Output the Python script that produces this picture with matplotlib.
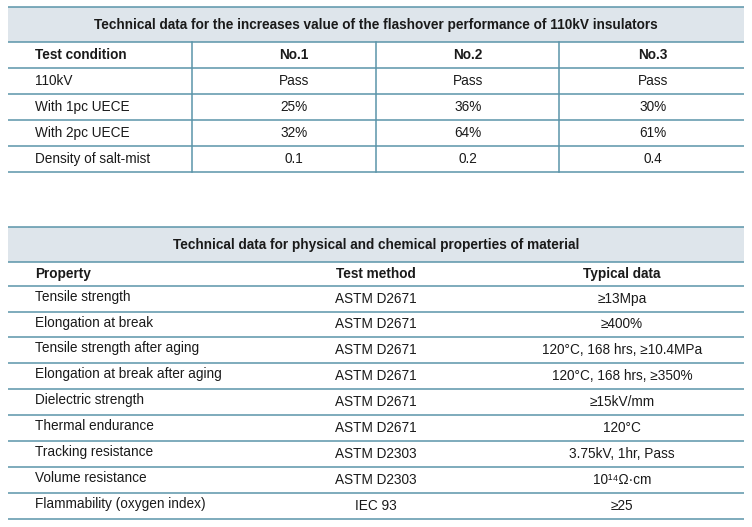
import matplotlib.pyplot as plt

plt.rcParams['font.family'] = ['Liberation Sans', 'DejaVu Sans']

# table 1: flashover performance
title1 = 'Technical data for the increases value of the flashover performance of 110kV insulators'
head1 = ['Test condition', 'No.1', 'No.2', 'No.3']
conditions = ['110kV', 'With 1pc UECE', 'With 2pc UECE', 'Density of salt-mist']
no1 = ['Pass', '25%', '32%', '0.1']
no2 = ['Pass', '36%', '64%', '0.2']
no3 = ['Pass', '30%', '61%', '0.4']

# table 2: physical and chemical properties
title2 = 'Technical data for physical and chemical properties of material'
head2 = ['Property', 'Test method', 'Typical data']
properties = ['Tensile strength', 'Elongation at break', 'Tensile strength after aging',
              'Elongation at break after aging', 'Dielectric strength', 'Thermal endurance',
              'Tracking resistance', 'Volume resistance', 'Flammability (oxygen index)']
methods = ['ASTM D2671', 'ASTM D2671', 'ASTM D2671', 'ASTM D2671', 'ASTM D2671',
           'ASTM D2671', 'ASTM D2303', 'ASTM D2303', 'IEC 93']
typical = ['≥13Mpa', '≥400%', '120°C, 168 hrs, ≥10.4MPa', '120°C, 168 hrs, ≥350%',
           '≥15kV/mm', '120°C', '3.75kV, 1hr, Pass', '10¹⁴Ω·cm', '≥25']

line_c = '#5b95a9'
band_c = '#dee5eb'
txt_c = '#1a1a1a'
fs = 9.85

fig = plt.figure(figsize=(7.52, 5.27), dpi=100)
ax = fig.add_axes([0, 0, 1, 1])
ax.set_xlim(0, 752)
ax.set_ylim(527, 0)
ax.axis('off')

x0, x1 = 8, 744


def hline(y):
    ax.plot([x0, x1], [y, y], color=line_c, lw=1.1, solid_capstyle='butt')


# ---- table 1
top, hb = 7, 42
rows1 = [42, 68, 94, 120, 146, 172]
ax.add_patch(plt.Rectangle((x0, top), x1 - x0, hb - top, color=band_c, lw=0))
hline(top)
for y in rows1:
    hline(y)
for xd in [192, 376, 559]:
    ax.plot([xd, xd], [hb, rows1[-1]], color=line_c, lw=1.1)
ax.text(376, (top + hb) / 2, title1, ha='center', va='center', fontsize=fs,
        fontweight='bold', color=txt_c)
cx = [294, 468, 653]
ax.text(35, (rows1[0] + rows1[1]) / 2, head1[0], ha='left', va='center',
        fontsize=fs, fontweight='bold', color=txt_c)
for c, h in zip(cx, head1[1:]):
    ax.text(c, (rows1[0] + rows1[1]) / 2, h, ha='center', va='center',
            fontsize=fs, fontweight='bold', color=txt_c)
for i in range(len(conditions)):
    yc = (rows1[i + 1] + rows1[i + 2]) / 2
    ax.text(35, yc, conditions[i], ha='left', va='center', fontsize=fs, color=txt_c)
    for c, col in zip(cx, [no1, no2, no3]):
        ax.text(c, yc, col[i], ha='center', va='center', fontsize=fs, color=txt_c)

# ---- table 2
top2, hb2 = 227, 262
rows2 = [262, 286, 312, 337, 363, 389, 415, 441, 467, 493, 519]
ax.add_patch(plt.Rectangle((x0, top2), x1 - x0, hb2 - top2, color=band_c, lw=0))
hline(top2)
for y in rows2:
    hline(y)
ax.text(376, (top2 + hb2) / 2, title2, ha='center', va='center', fontsize=fs,
        fontweight='bold', color=txt_c)
yh = (rows2[0] + rows2[1]) / 2
ax.text(35, yh, head2[0], ha='left', va='center', fontsize=fs, fontweight='bold', color=txt_c)
ax.text(376, yh, head2[1], ha='center', va='center', fontsize=fs, fontweight='bold', color=txt_c)
ax.text(622, yh, head2[2], ha='center', va='center', fontsize=fs, fontweight='bold', color=txt_c)
for i in range(len(properties)):
    yc = (rows2[i + 1] + rows2[i + 2]) / 2
    ax.text(35, yc - 2, properties[i], ha='left', va='center', fontsize=fs, color=txt_c)
    ax.text(376, yc, methods[i], ha='center', va='center', fontsize=fs, color=txt_c)
    ax.text(622, yc, typical[i], ha='center', va='center', fontsize=fs, color=txt_c)

fig.savefig('out.png', dpi=100)
